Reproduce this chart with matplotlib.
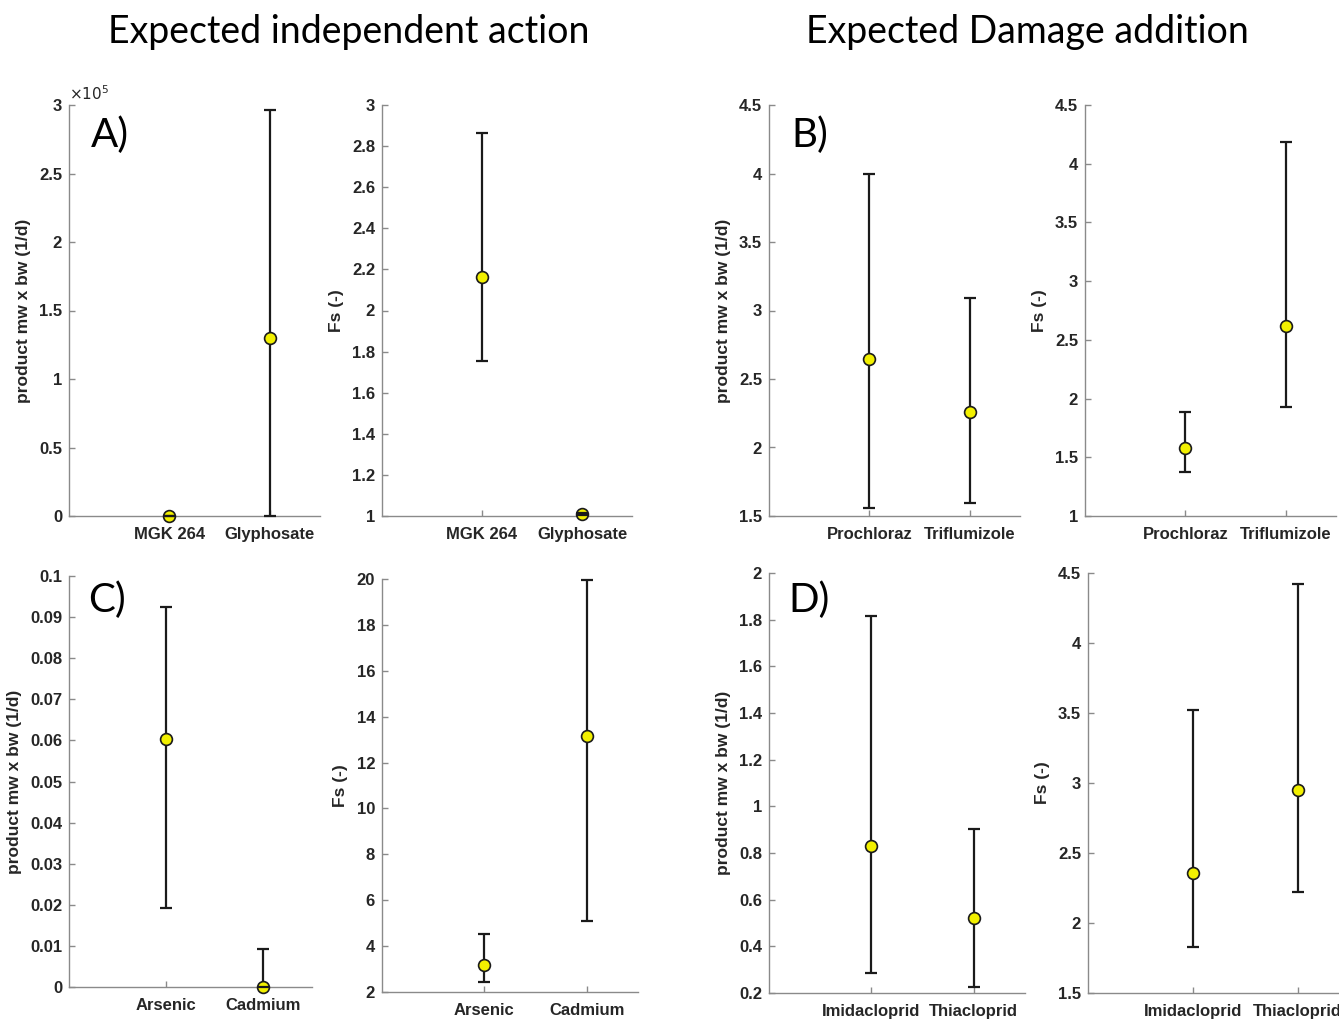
import matplotlib.pyplot as plt
import numpy as np
from matplotlib.ticker import FuncFormatter

# --- data: mean, lower bound, upper bound ---
A_LABELS = ['MGK 264', 'Glyphosate']
A_MW_MEAN = [0.0, 1.30e5]
A_MW_LOW = [0.0, 0.0]
A_MW_HIGH = [0.0, 2.96e5]
A_FS_MEAN = [2.162, 1.01]
A_FS_LOW = [1.756, 1.005]
A_FS_HIGH = [2.862, 1.015]

B_LABELS = ['Prochloraz', 'Triflumizole']
B_MW_MEAN = [2.644, 2.257]
B_MW_LOW = [1.56, 1.593]
B_MW_HIGH = [4.00, 3.093]
B_FS_MEAN = [1.577, 2.621]
B_FS_LOW = [1.377, 1.931]
B_FS_HIGH = [1.888, 4.183]

C_LABELS = ['Arsenic', 'Cadmium']
C_MW_MEAN = [0.0603, 0.0001]
C_MW_LOW = [0.0191, 0.0]
C_MW_HIGH = [0.0924, 0.00925]
C_FS_MEAN = [3.19, 13.17]
C_FS_LOW = [2.45, 5.09]
C_FS_HIGH = [4.53, 19.96]

D_LABELS = ['Imidacloprid', 'Thiacloprid']
D_MW_MEAN = [0.830, 0.520]
D_MW_LOW = [0.287, 0.224]
D_MW_HIGH = [1.816, 0.902]
D_FS_MEAN = [2.359, 2.95]
D_FS_LOW = [1.826, 2.224]
D_FS_HIGH = [3.521, 4.419]

MW_LABEL = 'product mw x bw (1/d)'
FS_LABEL = 'Fs (-)'

W, H = 1339, 1019
AXIS_COLOR = '#8a8a8a'
TEXT_COLOR = '#262626'

plt.rcParams['font.family'] = ['Liberation Sans', 'DejaVu Sans']

fig = plt.figure(figsize=(W / 100, H / 100), dpi=100)


def px_axes(left, right, top, bottom):
    return fig.add_axes([left / W, 1 - bottom / H, (right - left) / W, (bottom - top) / H])


def panel(ax, labels, mean, low, high, ylim, yticks, ylabel, scale=1.0):
    mean = np.asarray(mean) / scale
    low = np.asarray(low) / scale
    high = np.asarray(high) / scale
    x = np.arange(1, len(labels) + 1)
    yerr = np.vstack([mean - low, high - mean])
    _, caps, bars = ax.errorbar(x, mean, yerr=yerr, fmt='none', ecolor='#1a1a1a',
                                elinewidth=1.6, capsize=4.5, capthick=1.6, zorder=2)
    for c in caps:
        c.set_zorder(4)
        c.set_clip_on(False)
    for b in bars:
        b.set_clip_on(False)
    ax.plot(x, mean, 'o', markersize=8.5, markerfacecolor='#f2f000',
            markeredgecolor='#1a1a1a', markeredgewidth=1.2, zorder=3, clip_on=False)

    ax.set_xlim(0, 2.5)
    ax.set_ylim(*ylim)
    ax.set_xticks(x)
    ax.set_xticklabels(labels)
    ax.set_yticks(yticks)
    ax.yaxis.set_major_formatter(FuncFormatter(lambda v, p: f'{v:g}'))
    ax.set_ylabel(ylabel, fontsize=12.5, fontweight='bold', color=TEXT_COLOR, labelpad=6)

    for s in ['top', 'right']:
        ax.spines[s].set_visible(False)
    for s in ['left', 'bottom']:
        ax.spines[s].set_color(AXIS_COLOR)
        ax.spines[s].set_linewidth(1.0)
    ax.tick_params(direction='in', length=4, width=1.0, color=AXIS_COLOR,
                   labelsize=12, labelcolor=TEXT_COLOR, pad=5)
    ax.tick_params(axis='x', pad=8)
    for t in ax.get_xticklabels() + ax.get_yticklabels():
        t.set_fontweight('bold')


ax = px_axes(69, 320, 105, 516)
panel(ax, A_LABELS, A_MW_MEAN, A_MW_LOW, A_MW_HIGH, (0, 3), np.arange(0, 3.01, 0.5), MW_LABEL, scale=1e5)
ax.text(0.0, 1.005, r'$\times10^5$', transform=ax.transAxes, fontsize=11,
        color=TEXT_COLOR, ha='left', va='bottom')

ax = px_axes(382, 632, 105, 516)
panel(ax, A_LABELS, A_FS_MEAN, A_FS_LOW, A_FS_HIGH, (1, 3), np.arange(1, 3.01, 0.2), FS_LABEL)

ax = px_axes(769, 1020, 105, 516)
panel(ax, B_LABELS, B_MW_MEAN, B_MW_LOW, B_MW_HIGH, (1.5, 4.5), np.arange(1.5, 4.51, 0.5), MW_LABEL)

ax = px_axes(1085, 1336, 105, 516)
panel(ax, B_LABELS, B_FS_MEAN, B_FS_LOW, B_FS_HIGH, (1, 4.5), np.arange(1, 4.51, 0.5), FS_LABEL)

ax = px_axes(69, 312, 576, 987)
panel(ax, C_LABELS, C_MW_MEAN, C_MW_LOW, C_MW_HIGH, (0, 0.1), np.arange(0, 0.1001, 0.01), MW_LABEL)

ax = px_axes(382, 638, 579, 992)
panel(ax, C_LABELS, C_FS_MEAN, C_FS_LOW, C_FS_HIGH, (2, 20), np.arange(2, 20.1, 2), FS_LABEL)

ax = px_axes(769, 1025, 573, 993)
panel(ax, D_LABELS, D_MW_MEAN, D_MW_LOW, D_MW_HIGH, (0.2, 2), np.arange(0.2, 2.01, 0.2), MW_LABEL)

ax = px_axes(1088, 1350, 573, 993)
panel(ax, D_LABELS, D_FS_MEAN, D_FS_LOW, D_FS_HIGH, (1.5, 4.5), np.arange(1.5, 4.51, 0.5), FS_LABEL)

# group titles and panel letters
title_font = ['Lato', 'DejaVu Sans']
fig.text(349 / W, 1 - 32 / H, 'Expected independent action', fontsize=27,
         family=title_font, ha='center', va='center')
fig.text(1027 / W, 1 - 32 / H, 'Expected Damage addition', fontsize=27,
         family=title_font, ha='center', va='center')
for letter, (px, py) in zip(['A)', 'B)', 'C)', 'D)'],
                            [(91, 135), (791, 135), (88, 600), (788, 600)]):
    fig.text(px / W, 1 - py / H, letter, fontsize=29, family=title_font,
             ha='left', va='center')

fig.savefig('out.png', dpi=100)
